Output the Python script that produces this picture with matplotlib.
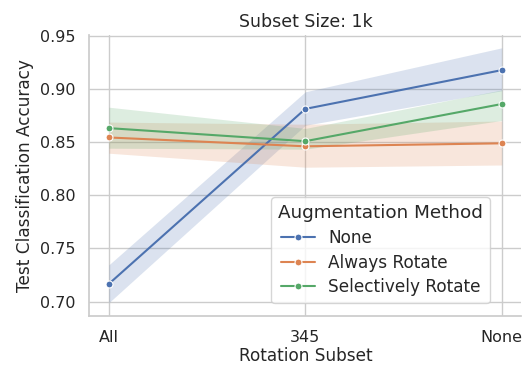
import matplotlib
matplotlib.use("Agg")
import matplotlib.pyplot as plt
import seaborn as sns

rotation_subsets = ["All", "345", "None"]
methods = ["None", "Always Rotate", "Selectively Rotate"]

# mean accuracy per method at each rotation subset
acc_none = [0.7167, 0.8814, 0.9179]
acc_always = [0.8545, 0.8462, 0.8490]
acc_selective = [0.8633, 0.8510, 0.8860]

# confidence band (lower, upper)
ci_none_lo = [0.6990, 0.8660, 0.8985]
ci_none_hi = [0.7346, 0.8975, 0.9389]
ci_always_lo = [0.8397, 0.8265, 0.8286]
ci_always_hi = [0.8690, 0.8670, 0.8700]
ci_selective_lo = [0.8444, 0.8435, 0.8705]
ci_selective_hi = [0.8830, 0.8630, 0.8993]

sns.set_theme(style="whitegrid")
palette = sns.color_palette("deep")

fig = plt.figure(figsize=(5.28, 3.68), dpi=100)
ax = fig.add_axes([0.169, 0.142, 0.8185, 0.763])

series = [
    (acc_none, ci_none_lo, ci_none_hi),
    (acc_always, ci_always_lo, ci_always_hi),
    (acc_selective, ci_selective_lo, ci_selective_hi),
]
x = list(range(len(rotation_subsets)))
for i, (name, (mean, lo, hi)) in enumerate(zip(methods, series)):
    ax.fill_between(x, lo, hi, color=palette[i], alpha=0.2, linewidth=0)
    ax.plot(x, mean, color=palette[i], marker="o", markersize=5,
            markeredgecolor="white", markeredgewidth=0.8, linewidth=1.5,
            label=name)

ax.set_xticks(x)
ax.set_xticklabels(rotation_subsets)
ax.set_xlim(-0.1, 2.1)
ax.set_ylim(0.6867, 0.951)
ax.set_yticks([0.70, 0.75, 0.80, 0.85, 0.90, 0.95])
ax.tick_params(axis="both", labelsize=11.5, pad=4)
ax.set_xlabel("Rotation Subset", fontsize=12.2, labelpad=2)
ax.set_ylabel("Test Classification Accuracy", fontsize=12.2)
ax.set_title("Subset Size: 1k", fontsize=12.5)
sns.despine(ax=ax)

leg = ax.legend(title="Augmentation Method", loc="lower right",
                bbox_to_anchor=(0.927, 0.045), fontsize=12.2,
                title_fontsize=13.2, borderaxespad=0, labelspacing=0.4)

fig.savefig("out.png", dpi=100)
